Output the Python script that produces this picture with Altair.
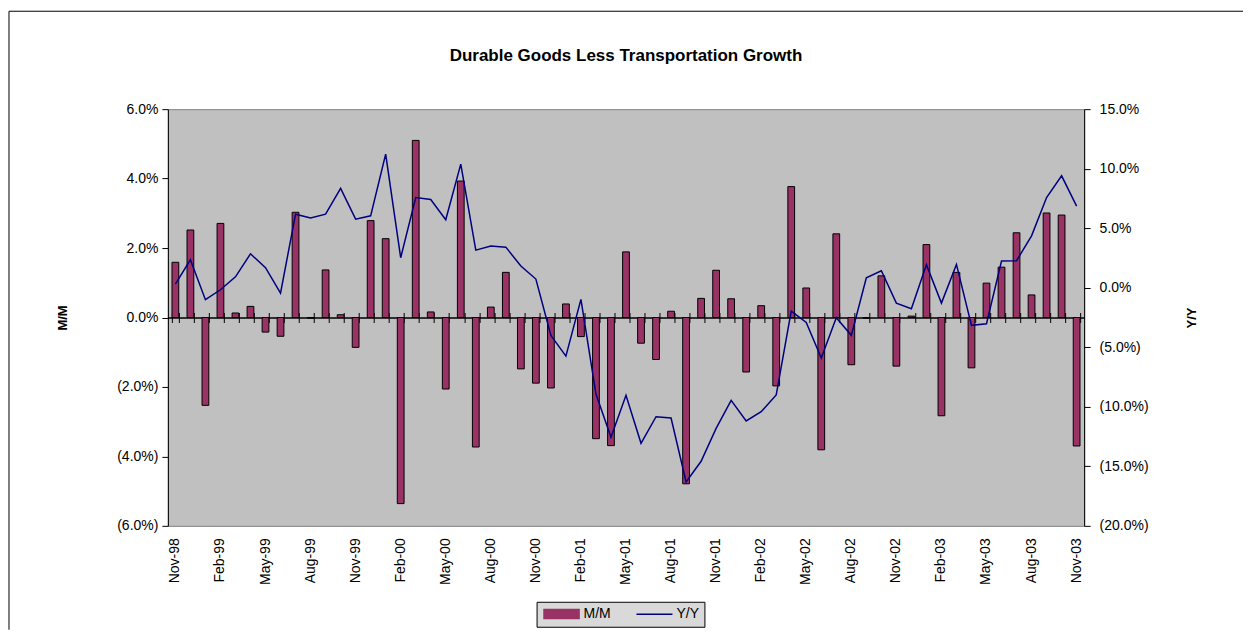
import altair as alt
import pandas as pd

# ---- data ----
months = [d.strftime('%b-%y') for d in pd.date_range('1998-11-01', '2003-11-01', freq='MS')]

mm_pct = [1.59, 2.52, -2.53, 2.71, 0.13, 0.32, -0.42, -0.54, 3.03, -0.02,
          1.37, 0.08, -0.86, 2.79, 2.27, -5.36, 5.10, 0.16, -2.06, 3.93,
          -3.73, 0.30, 1.30, -1.48, -1.89, -2.03, 0.39, -0.55, -3.49, -3.69,
          1.89, -0.74, -1.21, 0.18, -4.79, 0.55, 1.36, 0.54, -1.57, 0.34,
          -1.97, 3.77, 0.85, -3.81, 2.41, -1.36, -0.02, 1.20, -1.40, 0.04,
          2.10, -2.83, 1.30, -1.45, 0.99, 1.45, 2.44, 0.65, 3.01, 2.95,
          -3.70]

yy_pct = [0.31, 2.35, -1.00, -0.17, 0.92, 2.85, 1.68, -0.45, 6.18, 5.85,
          6.18, 8.34, 5.76, 6.04, 11.22, 2.52, 7.58, 7.41, 5.71, 10.38,
          3.16, 3.50, 3.41, 1.82, 0.73, -4.00, -5.74, -0.98, -8.93, -12.56,
          -9.04, -13.07, -10.83, -10.94, -16.31, -14.58, -11.81, -9.46, -11.19, -10.41,
          -9.01, -1.96, -2.91, -5.90, -2.52, -4.00, 0.84, 1.43, -1.29, -1.76,
          1.93, -1.29, 1.96, -3.16, -3.02, 2.24, 2.27, 4.36, 7.58, 9.40,
          6.86]

mm_ticks = [-0.06, -0.04, -0.02, 0.0, 0.02, 0.04, 0.06]
yy_ticks = [-0.20, -0.15, -0.10, -0.05, 0.0, 0.05, 0.10, 0.15]
x_label_values = months[::3]
series_names = ['M/M', 'Y/Y']
series_colors = ['#993366', '#000080']

df = pd.DataFrame({
    'month': months,
    'mm': [v / 100 for v in mm_pct],
    'yy': [v / 100 for v in yy_pct],
})

# ---- layout / style ----
W, H = 917, 417
FONT = 'Liberation Sans, Arial, sans-serif'
LBL = 14

x_scale = alt.Scale(domain=months, paddingInner=0.55, paddingOuter=0.275)
mm_scale = alt.Scale(domain=[-0.06, 0.06], nice=False)
yy_scale = alt.Scale(domain=[-0.20, 0.15], nice=False)
color_scale = alt.Scale(domain=series_names, range=series_colors)

left_expr = "datum.value < 0 ? '(' + format(-datum.value, '.1%') + ')' : format(datum.value, '.1%') + '\u2007'"
right_expr = "datum.value < 0 ? '(' + format(-datum.value, '.1%') + ')' : format(datum.value, '.1%')"

legend = alt.Legend(
    title=None, orient='none', legendX=369, legendY=493, direction='horizontal',
    fillColor='#D9D9D9', strokeColor='black', padding=5,
    labelFont=FONT, labelFontSize=LBL, labelColor='black',
    symbolSize=81, symbolOffset=13, labelOffset=15, columnPadding=22,
    symbolType={'expr': "datum.value === 'M/M' ? 'M-3.9,-1H3.9V1H-3.9Z' : 'M-4,0H4'"},
    symbolFillColor={'expr': "datum.value === 'M/M' ? '#993366' : 'transparent'"},
    symbolStrokeColor={'expr': "datum.value === 'M/M' ? 'black' : '#000080'"},
    symbolStrokeWidth={'expr': "datum.value === 'M/M' ? 1.5 : 1.5"},
)

base = alt.Chart(df)

bars = base.mark_bar(stroke='black', strokeWidth=1).transform_calculate(
    series="'M/M'"
).encode(
    x=alt.X('month:N', scale=x_scale, sort=months,
            axis=alt.Axis(orient='bottom', values=x_label_values, labelAngle=-90,
                          labelAlign='right', labelBaseline='middle', domain=False,
                          ticks=False, tickSize=0, labelPadding=12, labelFont=FONT,
                          labelFontSize=LBL, labelColor='black', title=None, grid=False)),
    y=alt.Y('mm:Q', scale=mm_scale,
            axis=alt.Axis(orient='left', values=mm_ticks, labelExpr=left_expr,
                          labelFont=FONT, labelFontSize=LBL, labelColor='black',
                          labelPadding=4, tickSize=6, tickColor='black',
                          domainColor='black', grid=False,
                          title='M/M', titleFont=FONT, titleFontSize=13,
                          titleFontWeight='bold', titleColor='black', titleAngle=-90,
                          titleAlign='center', titleBaseline='middle',
                          titleX=-105, titleY=H / 2)),
    color=alt.Color('series:N', scale=color_scale, legend=legend),
)

line = base.mark_line(strokeWidth=1.5).transform_calculate(
    series="'Y/Y'"
).encode(
    x=alt.X('month:N', scale=x_scale, sort=months,
            axis=alt.Axis(orient='top', offset=-H / 2, labels=False, ticks=True,
                          tickSize=5, tickBand='extent', tickColor='black',
                          domain=True, domainColor='black', title=None, grid=False)),
    y=alt.Y('yy:Q', scale=yy_scale,
            axis=alt.Axis(orient='right', values=yy_ticks, labelExpr=right_expr,
                          labelFont=FONT, labelFontSize=LBL, labelColor='black',
                          labelPadding=9, tickSize=6, tickColor='black',
                          domainColor='black', grid=False,
                          title='Y/Y', titleFont=FONT, titleFontSize=13,
                          titleFontWeight='bold', titleColor='black', titleAngle=-90,
                          titleAlign='center', titleBaseline='middle',
                          titleX=107, titleY=H / 2)),
    color=alt.Color('series:N', scale=color_scale, legend=legend),
)

zero_axis = base.mark_bar(opacity=0).encode(
    x=alt.X('month:N', scale=x_scale, sort=months,
            axis=alt.Axis(orient='bottom', offset=-H / 2, labels=False, ticks=True,
                          tickSize=5, tickBand='extent', tickColor='black',
                          domain=True, domainColor='black', title=None, grid=False)),
    y=alt.Y('mm:Q', scale=mm_scale, axis=None),
)

frame_data = alt.Data(values=[{}])
frame_left = alt.Chart(frame_data).mark_rule(color='black', strokeWidth=1).encode(
    x=alt.value(-159), y=alt.value(-98), y2=alt.value(521))
frame_top = alt.Chart(frame_data).mark_rule(color='black', strokeWidth=1).encode(
    x=alt.value(-159), x2=alt.value(1076), y=alt.value(-98))

chart = alt.layer(bars, line, zero_axis, frame_left, frame_top).resolve_scale(
    y='independent'
).resolve_axis(
    x='independent', y='independent'
).properties(
    width=W, height=H,
    padding={'left': 0, 'top': 2, 'right': 0, 'bottom': 0},
    view=alt.ViewBackground(fill='#C0C0C0', stroke='#808080'),
    title=alt.Title('Durable Goods Less Transportation Growth', font=FONT,
                    fontSize=17, fontWeight='bold', color='black',
                    anchor='middle', offset=-54),
).configure_view(
    fill='#C0C0C0', stroke='#808080'
).configure(background='white')

chart.save('out.html', embed_options={'renderer': 'svg', 'actions': False})
